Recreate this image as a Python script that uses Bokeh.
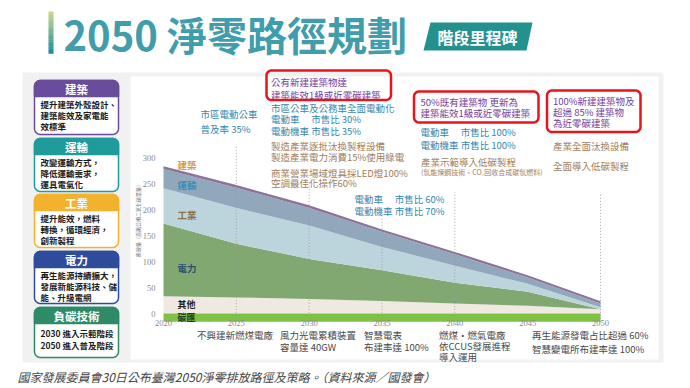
import math
from bokeh.plotting import figure
from bokeh.models import Range1d, ColumnDataSource
from bokeh.core.properties import value
from bokeh.embed import file_html
from bokeh.resources import INLINE

# ---------------- data ----------------
years = [2020, 2025, 2030, 2035, 2040, 2045, 2050]
other = [33, 31, 28, 24, 19, 15, 8]
power = [140, 103, 77, 59, 40, 27, 0]
industry = [68, 69, 64, 45, 33, 15, 4]
transport = [37, 39, 34, 29, 22, 12, 7]
building = [5, 5, 5, 4.5, 4.5, 4.5, 4.5]
carbon_sink = [-16, -16, -16, -16, -16, -16, -16]
y_ticks = [0, 50, 100, 150, 200, 250, 300]
x_ticks = years
sector_labels = ["建築", "運輸", "工業", "電力", "其他", "碳匯"]
y_axis_title = "排放量（百萬公噸二氧化碳當量）"

title_text = "2050 淨零路徑規劃"
badge_text = "階段里程碑"
caption = "國家發展委員會30日公布臺灣2050淨零排放路徑及策略。（資料來源／國發會）"

panel_titles = ["建築", "運輸", "工業", "電力", "負碳技術"]
panel_lines = [
    ["提升建築外殼設計、", "建築能效及家電能", "效標準"],
    ["改變運輸方式，", "降低運輸需求，", "運具電氣化"],
    ["提升能效，燃料", "轉換，循環經濟，", "創新製程"],
    ["再生能源持續擴大，", "發展新能源科技、儲", "能、升級電網"],
    ["2030 進入示範階段", "2050 進入普及階段"],
]

box1_lines = ["公有新建建築物達", "建築能效1級或近零碳建築"]
box2_lines = ["50%既有建築物 更新為", "建築能效1級或近零碳建築"]
box3_lines = ["100%新建建築物及", "超過 85% 建築物", "為近零碳建築"]
bus_lines = ["市區電動公車", "普及率 35%"]
ev2030_lines = ["市區公車及公務車全面電動化", "電動車　 市售比 30%", "電動機車 市售比 35%"]
ind2030_lines = ["製造產業逐批汰換製程設備", "製造產業電力消費15%使用綠電"]
com2030_lines = ["商業營業場域燈具採LED燈100%", "空調最佳化操作60%"]
ev2035_lines = ["電動車　 市售比 60%", "電動機車 市售比 70%"]
ev2040_lines = ["電動車　 市售比 100%", "電動機車 市售比 100%"]
ind2040_lines = ["產業示範導入低碳製程", "(氫能煉鋼技術、CO₂回收合成碳氫燃料)"]
ind2050_lines = ["產業全面汰換設備", "全面導入低碳製程"]
power_notes = [
    ["不興建新燃煤電廠"],
    ["風力光電累積裝置", "容量達 40GW"],
    ["智慧電表", "布建率達 100%"],
    ["燃煤・燃氣電廠", "依CCUS發展進程", "導入運用"],
    ["再生能源發電占比超過 60%", "智慧變電所布建率達 100%"],
]

# ---------------- layout / style ----------------
W, H = 690, 388
CJK = "Noto Sans CJK TC"
SERIF = "Liberation Serif"
X2020, X2050, Y0, PXU = 163.0, 600.0, 313.0, 0.52
ppy = (X2050 - X2020) / (years[-1] - years[0])
x_start = years[0] - X2020 / ppy
x_end = years[0] + (W - X2020) / ppy
y_end = Y0 / PXU
y_start = -(H - Y0) / PXU

p = figure(width=W, height=H, output_backend="svg", toolbar_location=None,
           x_range=Range1d(x_start, x_end), y_range=Range1d(y_start, y_end),
           x_axis_location=None, y_axis_location=None, min_border=0,
           outline_line_color=None, background_fill_color="white",
           border_fill_color="white")
p.grid.visible = False
p.extra_x_ranges = {"px": Range1d(0, W)}
p.extra_y_ranges = {"px": Range1d(H, 0)}
PX = dict(x_range_name="px", y_range_name="px")


def rrect(x0, y0, x1, y1, r, corners=(1, 1, 1, 1)):
    xs, ys = [], []
    specs = [((x0 + r, y0 + r), math.pi, 1.5 * math.pi, (x0, y0)),
             ((x1 - r, y0 + r), 1.5 * math.pi, 2 * math.pi, (x1, y0)),
             ((x1 - r, y1 - r), 0, 0.5 * math.pi, (x1, y1)),
             ((x0 + r, y1 - r), 0.5 * math.pi, math.pi, (x0, y1))]
    for c, ((cx, cy), a0, a1, pt) in zip(corners, specs):
        if c:
            for k in range(9):
                a = a0 + (a1 - a0) * k / 8
                xs.append(cx + r * math.cos(a))
                ys.append(cy + r * math.sin(a))
        else:
            xs.append(pt[0])
            ys.append(pt[1])
    return xs, ys


def txt(x, y, s, size, color, style="normal", align="left", font=CJK):
    p.text(x=[x], y=[y], text=[s], text_font=value(font),
           text_font_size=f"{size}px", text_color=color, text_align=align,
           text_baseline="middle", text_font_style=style, **PX)


def lines(x, y0, dy, items, size, color, style="normal"):
    for i, s in enumerate(items):
        txt(x, y0 + i * dy, s, size, color, style)


# container
p.quad(left=[22], right=[663], top=[72], bottom=[362], fill_color="#f1f1f1",
       line_color=None, **PX)
p.quad(left=[130], right=[658], top=[76], bottom=[359], fill_color="white",
       line_color=None, **PX)

# title bar gradient
n = 24
c0, c1 = (200, 216, 140), (27, 140, 156)
for i in range(n):
    t = i / (n - 1)
    col = "#%02x%02x%02x" % tuple(int(c0[j] + (c1[j] - c0[j]) * t) for j in range(3))
    p.quad(left=[48], right=[53], top=[11 + i * 42 / n], bottom=[11 + (i + 1) * 42 / n + 0.3],
           fill_color=col, line_color=None, **PX)
txt(63, 33, title_text, 40, "#419dab", "bold")
p.patch(x=[430, 532, 526, 423], y=[22, 22, 50, 50], fill_color="#23928f",
        line_color=None, **PX)
txt(477, 36, badge_text, 16, "white", "bold", align="center")

# left panel boxes
panel_colors = ["#6a4c9c", "#1f9b9b", "#f2b22e", "#2f4c9c", "#2f8a68"]
panel_y = [(80, 134), (138, 191), (194, 247), (251, 303), (307, 357)]
for (t0, t1), col, ttl, body in zip(panel_y, panel_colors, panel_titles, panel_lines):
    xs, ys = rrect(34, t0, 118, t1, 6)
    p.patch(x=xs, y=ys, fill_color="white", line_color=col, line_width=1.5, **PX)
    xs, ys = rrect(34, t0, 118, t0 + 16, 6, corners=(1, 1, 0, 0))
    p.patch(x=xs, y=ys, fill_color=col, line_color=col, line_width=1.5, **PX)
    txt(76, t0 + 8.5, ttl, 11.5, "white", "bold", align="center")
    dy = 11.3 if len(body) == 3 else 12
    y0 = t0 + 23 if len(body) == 3 else t0 + 25
    lines(40, y0, dy, body, 8.5, "#1a1a1a", "bold")

# stacked areas
src = ColumnDataSource(dict(year=years, other=other, power=power, industry=industry,
                            transport=transport, building=building))
p.varea_stack(stackers=["other", "power", "industry", "transport", "building"], x="year",
              color=["#efe9e1", "#82a872", "#bcd5dd", "#91a7bb", "#8e7399"], source=src)
p.varea(x=years, y1=carbon_sink, y2=0, color="#7dc242")

# gridlines
grid_years = [2025, 2030, 2035, 2040, 2050]
grid_tops = [323, 250, 183, 233, 231]
p.segment(x0=grid_years, y0=[carbon_sink[0]] * len(grid_years), x1=grid_years, y1=grid_tops,
          line_color="#999999", line_dash="1 2", line_width=1, line_alpha=0.8)

# ticks
p.text(x=[years[0]] * len(y_ticks), y=y_ticks, text=[str(v) for v in y_ticks],
       x_offset=-8, text_align="right", text_baseline="middle",
       text_font=value(SERIF), text_font_size="8.5px", text_color="#8a8a8a")
p.text(x=x_ticks, y=[0] * len(x_ticks), text=[str(v) for v in x_ticks], y_offset=9,
       text_align="center", text_baseline="middle",
       text_font=value(SERIF), text_font_size="8.5px", text_color="#8a8a8a")
p.text(x=[years[0]], y=[181], text=[y_axis_title], x_offset=-26, angle=math.pi / 2,
       text_align="center", text_baseline="middle", text_font=value(CJK),
       text_font_size="5px", text_color="#777777")

# sector labels in chart
label_y = [286, 248, 190, 88, 17, -8]
label_c = ["#d89a3c", "#3a8dba", "#8b6d3f", "#2c4f6e", "#222222", "#1f3d1f"]
label_s = ["9.5px", "9.5px", "9.5px", "9.5px", "9px", "9px"]
for s, yv, c, fs in zip(sector_labels, label_y, label_c, label_s):
    p.text(x=[years[0]], y=[yv], text=[s], x_offset=14, text_align="left",
           text_baseline="middle", text_font=value(CJK), text_font_size=fs,
           text_color=c, text_font_style="bold")

# annotations
P_, T_, B_, D_ = "#7340a0", "#3487ae", "#9e7e60", "#4a4a4a"
FS = 9.5
lines(270.5, 81, 13, box1_lines, FS, P_)
lines(420, 101, 11.5, box2_lines, FS, P_)
lines(552.5, 100, 11.3, box3_lines, FS, P_)
for (x0, y0, x1, y1) in [(266, 70, 390.5, 99.5), (413.5, 91, 538, 122), (546.5, 90, 640, 131.5)]:
    xs, ys = rrect(x0, y0, x1, y1, 5)
    p.patch(x=xs, y=ys, fill_color=None, line_color="#e8141c", line_width=2.5, **PX)

lines(200, 113.5, 14.5, bus_lines, FS, T_)
lines(270.5, 107.5, 11.3, ev2030_lines, FS, T_)
lines(270.5, 145, 11, ind2030_lines, FS, B_)
lines(270.5, 172, 10.5, com2030_lines, FS, B_)
lines(354, 198, 12, ev2035_lines, FS, T_)
lines(420, 131.5, 12.5, ev2040_lines, FS, T_)
txt(420.5, 161, ind2040_lines[0], FS, B_)
txt(420.5, 171.5, ind2040_lines[1], 7, B_)
txt(552.5, 145, ind2050_lines[0], FS, B_)
txt(552.5, 165, ind2050_lines[1], FS, B_)

note_x = [196.5, 279.5, 363.5, 438.5, 531.5]
note_dy = [11.5, 11.5, 11.5, 11, 13.5]
for x, dy, items in zip(note_x, note_dy, power_notes):
    lines(x, 334.5, dy, items, FS, D_)

txt(17, 376, caption, 12, "#444444", "italic")

open("out.html", "w").write(file_html(p, INLINE))
